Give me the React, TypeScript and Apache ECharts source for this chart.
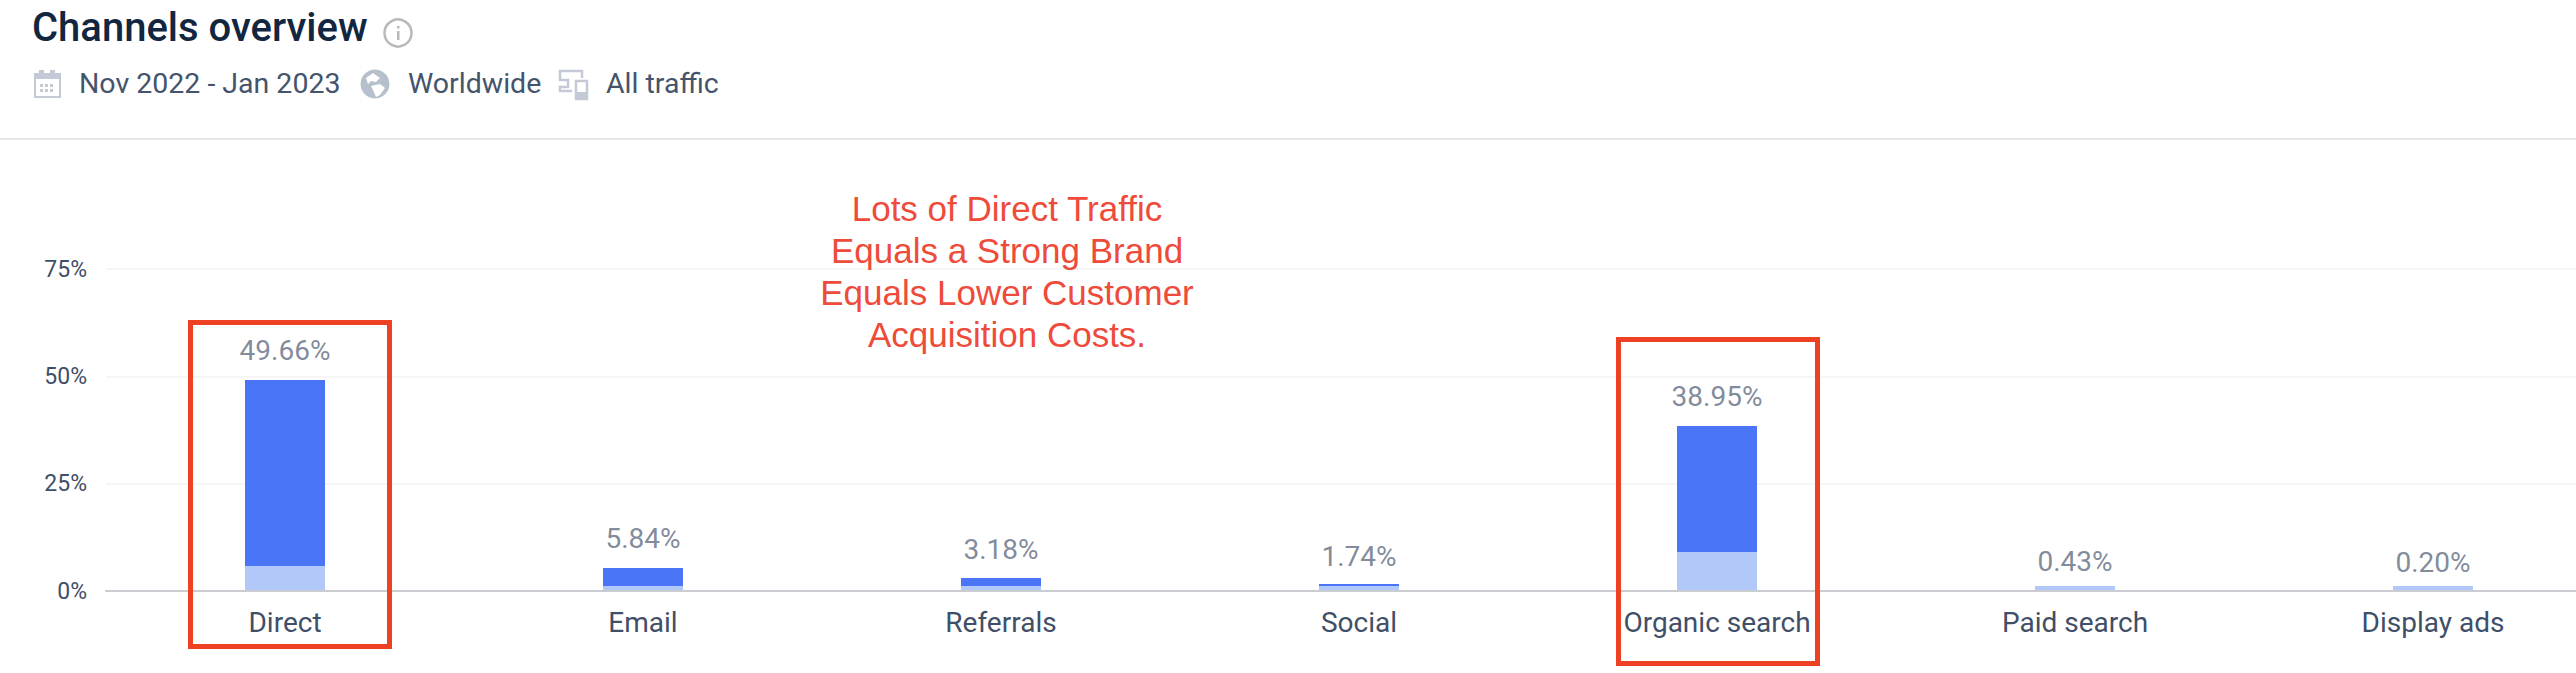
import React, { useEffect, useRef } from "react";
import * as echarts from "echarts";

const categories = ["Direct", "Email", "Referrals", "Social", "Organic search", "Paid search", "Display ads"];
const totalShare = [49.66, 5.84, 3.18, 1.74, 38.95, 0.43, 0.2];
const lightSegment = [5.82, 1.16, 1.16, 1.16, 9.08, 0.43, 0.2];
const darkSegment = [43.33, 4.19, 1.86, 0.47, 29.35, 0, 0];
const yTicks = [0, 25, 50, 75];
const noteLines = [
  "Lots of Direct Traffic",
  "Equals a Strong Brand",
  "Equals Lower Customer",
  "Acquisition Costs.",
];

const FONT = "Roboto";
const ICON = "#c3cad6";

function App() {
  const ref = useRef<HTMLDivElement>(null);
  useEffect(() => {
    document.body.style.margin = "0";
    document.body.style.overflow = "hidden";
    const chart = echarts.init(ref.current!, null, { renderer: "svg" });
    const subtitle = (text: string, x: number) => ({
      type: "text",
      x,
      y: 83,
      style: { text, fontFamily: FONT, fontSize: 28.5, fill: "#44546c", verticalAlign: "middle" },
    });
    const box = (x: number, y: number, width: number, height: number) => ({
      type: "rect",
      z: 20,
      shape: { x, y, width, height },
      style: { fill: "none", stroke: "#ee4023", lineWidth: 5 },
    });
    const calendarDots: any[] = [];
    [41, 46, 51].forEach((x) =>
      [84, 89].forEach((y) =>
        calendarDots.push({ type: "rect", shape: { x: x - 1, y, width: 3, height: 3 }, style: { fill: ICON } })
      )
    );
    chart.setOption({
      animation: false,
      backgroundColor: "#ffffff",
      grid: { left: 106, top: 269, width: 2506, height: 322, containLabel: false, outerBoundsMode: "none" },
      xAxis: {
        type: "category",
        data: categories,
        z: 5,
        axisTick: { show: false },
        axisLine: { lineStyle: { color: "#c9cdd2", width: 2 } },
        axisLabel: { fontFamily: FONT, fontSize: 28, color: "#3f4f68", margin: 17, interval: 0 },
      },
      yAxis: {
        type: "value",
        min: 0,
        max: 75,
        interval: 25,
        axisLine: { show: false },
        axisTick: { show: false },
        axisLabel: {
          fontFamily: FONT,
          fontSize: 23,
          color: "#3f4f68",
          margin: 19,
          formatter: (v: number) => (yTicks.includes(v) ? `${v}%` : ""),
        },
        splitLine: { lineStyle: { color: "#f6f6f7", width: 2 } },
      },
      series: [
        {
          name: "Light",
          type: "bar",
          stack: "share",
          data: lightSegment,
          barWidth: 80,
          barMinHeight: 5,
          itemStyle: { color: "#b1c8f9" },
        },
        {
          name: "Dark",
          type: "bar",
          stack: "share",
          data: darkSegment,
          barWidth: 80,
          itemStyle: { color: "#4b75f7" },
        },
        {
          name: "Total",
          type: "scatter",
          data: totalShare,
          symbolSize: 1,
          itemStyle: { color: "transparent" },
          label: {
            show: true,
            position: "top",
            distance: 13,
            fontFamily: FONT,
            fontSize: 28,
            color: "#5f6d82",
            formatter: (p: any) => `${Number(p.value).toFixed(2)}%`,
          },
        },
      ],
      graphic: [
        { type: "text", x: 32, y: 27, style: { text: "Channels overview", fontFamily: FONT, fontWeight: 500, fontSize: 40, fill: "#12263f", verticalAlign: "middle" } },
        subtitle("Nov 2022 - Jan 2023", 79),
        subtitle("Worldwide", 408),
        subtitle("All traffic", 606),
        { type: "circle", shape: { cx: 398, cy: 33, r: 13.5 }, style: { fill: "none", stroke: "#b9b9b9", lineWidth: 2.5 } },
        { type: "rect", shape: { x: 397, y: 31, width: 2.5, height: 9 }, style: { fill: "#b9b9b9" } },
        { type: "rect", shape: { x: 397, y: 26, width: 2.5, height: 2.5 }, style: { fill: "#b9b9b9" } },
        // calendar
        { type: "rect", shape: { x: 35, y: 74, width: 25, height: 23 }, style: { fill: "none", stroke: ICON, lineWidth: 2 } },
        { type: "rect", shape: { x: 34, y: 73, width: 27, height: 6 }, style: { fill: ICON } },
        { type: "rect", shape: { x: 39, y: 70, width: 5, height: 4 }, style: { fill: ICON } },
        { type: "rect", shape: { x: 50, y: 70, width: 5, height: 4 }, style: { fill: ICON } },
        ...calendarDots,
        // globe
        { type: "circle", shape: { cx: 375, cy: 84, r: 14.5 }, style: { fill: "#b6c0cd" } },
        { type: "polygon", shape: { points: [[366, 78], [373, 73], [380, 78], [376, 82], [371, 81], [368, 84]] }, style: { fill: "#ffffff" } },
        { type: "polygon", shape: { points: [[371, 86], [380, 84], [385, 88], [380, 95], [376, 97], [373, 90]] }, style: { fill: "#ffffff" } },
        // devices
        { type: "polyline", shape: { points: [[572, 91], [560, 91], [560, 87], [568, 87], [568, 80], [560, 80], [560, 71], [582, 71], [582, 78]] }, style: { fill: "none", stroke: ICON, lineWidth: 2.5 } },
        { type: "rect", shape: { x: 576, y: 81, width: 11, height: 18 }, style: { fill: "none", stroke: ICON, lineWidth: 2.5 } },
        { type: "rect", shape: { x: 576, y: 92, width: 11, height: 7 }, style: { fill: ICON } },
        // separator
        { type: "rect", shape: { x: 0, y: 138, width: 2576, height: 2 }, style: { fill: "#e7e8ec" } },
        // note
        ...noteLines.map((text, i) => ({
          type: "text",
          z: 20,
          x: 1007,
          y: 226 + i * 42,
          style: {
            text,
            fontFamily: "Liberation Sans",
            fontSize: 35,
            fill: "#ee4b3a",
            align: "center",
            verticalAlign: "bottom",
          },
        })),
        box(190.5, 322.5, 199, 324),
        box(1618.5, 339.5, 199, 324),
      ],
    });
    return () => chart.dispose();
  }, []);
  return <div ref={ref} style={{ width: 2576, height: 673 }} />;
}

export default App;
